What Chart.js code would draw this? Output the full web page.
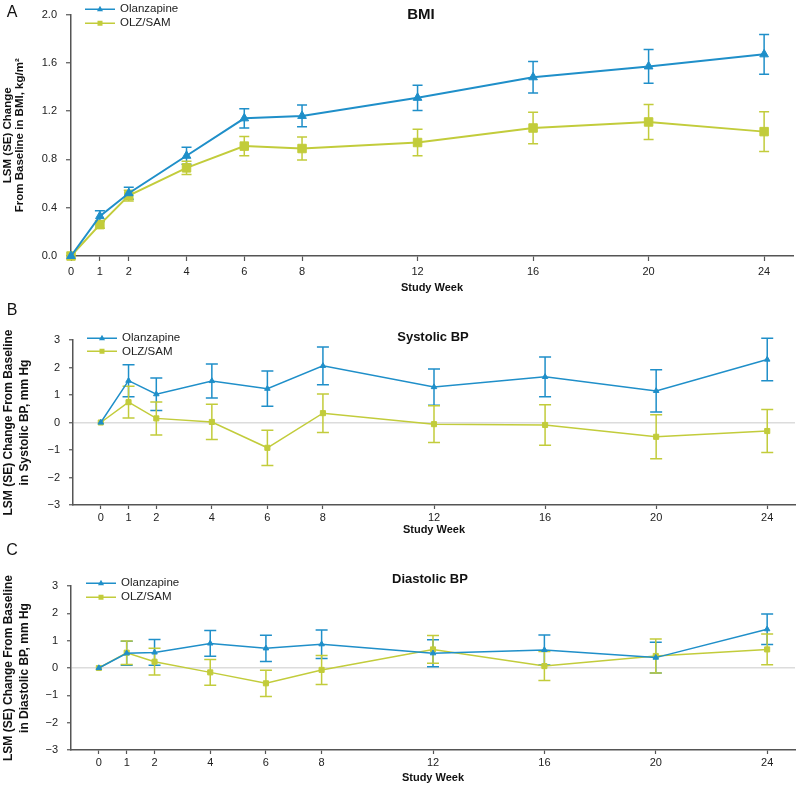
<!DOCTYPE html>
<html>
<head>
<meta charset="utf-8">
<script src="https://cdn.jsdelivr.net/npm/chart.js@4.4.0/dist/chart.umd.min.js"></script>
<style>
  body { margin: 0; background: #fff; font-family: "Liberation Sans", Arial, sans-serif; }
  #wrap { position: relative; width: 800px; height: 786px; overflow: hidden; }
  .panel { position: absolute; left: 0; }
  .txt { position: absolute; transform: translate(-50%, -50%); white-space: nowrap; line-height: 1; color: #111; }
  .letter { font-size: 16px; }
  .ttl { font-weight: bold; }
  .leg { position: absolute; display: flex; align-items: center; font-size: 11.5px; color: #222; line-height: 1; transform: translateY(-50%); }
  .leg svg { margin-right: 5px; }
</style>
</head>
<body>
<div id="wrap">
  <div class="panel" style="top:0"><canvas id="cA" width="800" height="300"></canvas></div>
  <div class="panel" style="top:300px"><canvas id="cB" width="800" height="240"></canvas></div>
  <div class="panel" style="top:540px"><canvas id="cC" width="800" height="246"></canvas></div>

  <div class="txt letter" style="left:12px;top:12px">A</div>
  <div class="txt letter" style="left:12px;top:310px">B</div>
  <div class="txt letter" style="left:12px;top:550px">C</div>

  <div class="txt ttl" style="left:421px;top:13px;font-size:15px">BMI</div>
  <div class="txt ttl" style="left:433px;top:336px;font-size:13px">Systolic BP</div>
  <div class="txt ttl" style="left:430px;top:578px;font-size:13px">Diastolic BP</div>

  <div id="legends"></div>
</div>

<script>
// study weeks (x axis)
const weeks = [0, 1, 2, 4, 6, 8, 12, 16, 20, 24];

// A: BMI change, kg/m2
const bmiOlz   = [0, 0.33, 0.52, 0.83, 1.14, 1.16, 1.31, 1.48, 1.57, 1.67];
const bmiOlzSe = [0, 0.045, 0.05, 0.07, 0.08, 0.09, 0.105, 0.13, 0.14, 0.165];
const bmiSam   = [0, 0.26, 0.50, 0.73, 0.91, 0.89, 0.94, 1.06, 1.11, 1.03];
const bmiSamSe = [0, 0.03, 0.045, 0.055, 0.08, 0.095, 0.11, 0.13, 0.145, 0.165];

// B: systolic BP change, mm Hg
const sbpOlz   = [0, 1.52, 1.03, 1.51, 1.23, 2.06, 1.29, 1.66, 1.15, 2.29];
const sbpOlzSe = [0, 0.58, 0.59, 0.62, 0.64, 0.69, 0.66, 0.72, 0.77, 0.77];
const sbpSam   = [0, 0.74, 0.15, 0.02, -0.92, 0.34, -0.06, -0.09, -0.52, -0.31];
const sbpSamSe = [0, 0.58, 0.60, 0.64, 0.64, 0.70, 0.67, 0.74, 0.80, 0.78];

// C: diastolic BP change, mm Hg
const dbpOlz   = [0, 0.54, 0.57, 0.90, 0.72, 0.87, 0.54, 0.66, 0.38, 1.42];
const dbpOlzSe = [0, 0.44, 0.47, 0.47, 0.48, 0.52, 0.49, 0.55, 0.56, 0.56];
const dbpSam   = [0, 0.56, 0.23, -0.16, -0.56, -0.07, 0.68, 0.07, 0.44, 0.68];
const dbpSamSe = [0, 0.43, 0.49, 0.47, 0.48, 0.53, 0.51, 0.53, 0.62, 0.56];

// tick labels
const bmiTicks = [0, 0.4, 0.8, 1.2, 1.6, 2.0];
const bpTicks  = [-3, -2, -1, 0, 1, 2, 3];

const seriesNames = ["Olanzapine", "OLZ/SAM"];

const BLUE = "#1f8fc9";
const GREEN = "#c2cc3b";
const AXIS = "#555";

// draws the SE whiskers for every dataset that has an "se" array
const errorBars = {
  id: "errorBars",
  beforeDatasetsDraw(chart) {
    const { ctx, scales: { x, y } } = chart;
    const cap = chart.options.plugins.errorBars.cap;
    chart.data.datasets.forEach((ds, i) => {
      if (!chart.isDatasetVisible(i)) return;
      ctx.save();
      ctx.strokeStyle = ds.borderColor;
      ctx.lineWidth = 1.5;
      ds.data.forEach((p, j) => {
        const se = ds.se[j];
        if (!se) return;
        const px = x.getPixelForValue(p.x);
        const hi = y.getPixelForValue(p.y + se);
        const lo = y.getPixelForValue(p.y - se);
        ctx.beginPath();
        ctx.moveTo(px, hi); ctx.lineTo(px, lo);
        ctx.moveTo(px - cap, hi); ctx.lineTo(px + cap, hi);
        ctx.moveTo(px - cap, lo); ctx.lineTo(px + cap, lo);
        ctx.stroke();
      });
      ctx.restore();
    });
  }
};

function series(label, vals, se, color, shape, r, lw) {
  return {
    label,
    data: weeks.map((w, i) => ({ x: w, y: vals[i] })),
    se,
    showLine: true,
    borderColor: color,
    backgroundColor: color,
    borderWidth: lw,
    pointStyle: shape,
    pointRadius: r,
    pointBorderWidth: 1,
    pointBackgroundColor: color,
    pointBorderColor: color,
    clip: false
  };
}

const minus = v => String(v).replace("-", "\u2212");

function panel(id, o) {
  return new Chart(document.getElementById(id), {
    type: "scatter",
    data: {
      datasets: [
        series(seriesNames[0], o.olz, o.olzSe, BLUE, "triangle", o.rTri, o.lw),
        series(seriesNames[1], o.sam, o.samSe, GREEN, "rect", o.rSq, o.lw)
      ]
    },
    options: {
      responsive: false,
      animation: false,
      devicePixelRatio: 1,
      layout: { padding: { top: o.top, right: o.right, left: 0, bottom: 0 } },
      plugins: {
        legend: { display: false },
        tooltip: { enabled: false },
        errorBars: { cap: o.cap }
      },
      scales: {
        x: {
          type: "linear",
          min: o.xMin,
          max: 25,
          afterBuildTicks: s => { s.ticks = weeks.map(v => ({ value: v })); },
          afterFit: s => { s.height = o.xh; },
          grid: { drawOnChartArea: false, tickLength: o.tl, tickColor: AXIS, tickWidth: 1.2 },
          border: { color: AXIS, width: 1.5 },
          ticks: { font: { size: 11, family: "Liberation Sans" }, color: "#222", padding: o.xtp, maxRotation: 0, autoSkip: false, callback: v => String(v) },
          title: { display: true, text: "Study Week", color: "#111", font: { size: 11, weight: "bold", family: "Liberation Sans" }, padding: { top: 0, bottom: o.xTitlePad } }
        },
        y: {
          min: o.yTicks[0],
          max: o.yTicks[o.yTicks.length - 1],
          afterBuildTicks: s => { s.ticks = o.yTicks.map(v => ({ value: v })); },
          afterFit: s => { s.width = o.yw; },
          grid: {
            color: c => (o.zeroLine && c.tick && c.tick.value === 0) ? "#dcdcdc" : "rgba(0,0,0,0)",
            lineWidth: 1.5,
            tickColor: AXIS,
            tickLength: o.tl,
            tickWidth: 1.2
          },
          border: { color: AXIS, width: 1.5 },
          ticks: { font: { size: 11, family: "Liberation Sans", lineHeight: 1 }, color: "#222", padding: o.ytp, callback: o.fmt },
          title: { display: true, text: o.yTitle, color: "#111", font: { size: o.yts, weight: "bold", family: "Liberation Sans", lineHeight: o.ylh }, padding: { top: o.yTitlePad, bottom: 0 } }
        }
      }
    },
    plugins: [errorBars]
  });
}

panel("cA", {
  olz: bmiOlz, olzSe: bmiOlzSe, sam: bmiSam, samSe: bmiSamSe,
  yTicks: bmiTicks, fmt: v => v.toFixed(1), zeroLine: false,
  yTitle: ["LSM (SE) Change", "From Baseline in BMI, kg/m\u00b2"], yts: 11.5, ylh: "12px", yTitlePad: 1.5,
  xMin: 0, top: 6, right: 0, xh: 44, yw: 71, tl: 5, xtp: 4, ytp: 9, xTitlePad: 5,
  rTri: 5, rSq: 6, lw: 2, cap: 5
});

panel("cB", {
  olz: sbpOlz, olzSe: sbpOlzSe, sam: sbpSam, samSe: sbpSamSe,
  yTicks: bpTicks, fmt: minus, zeroLine: true,
  yTitle: ["LSM (SE) Change From Baseline", "in Systolic BP, mm Hg"], yts: 12, ylh: "16px", yTitlePad: 0.5,
  xMin: -1, top: 40, right: 3, xh: 35, yw: 73, tl: 4, xtp: 2.5, ytp: 9, xTitlePad: 3.5,
  rTri: 3.2, rSq: 3.6, lw: 1.5, cap: 6
});

panel("cC", {
  olz: dbpOlz, olzSe: dbpOlzSe, sam: dbpSam, samSe: dbpSamSe,
  yTicks: bpTicks, fmt: minus, zeroLine: true,
  yTitle: ["LSM (SE) Change From Baseline", "in Diastolic BP, mm Hg"], yts: 12, ylh: "16px", yTitlePad: 0.5,
  xMin: -1, top: 46, right: 3, xh: 36, yw: 71, tl: 4, xtp: 2.5, ytp: 9, xTitlePad: 1.5,
  rTri: 3.2, rSq: 3.6, lw: 1.5, cap: 6
});

// legends: line sample with marker, then series name
const legendSpots = [
  { x: 85, rows: [9, 23] },
  { x: 87, rows: [338, 351.5] },
  { x: 86, rows: [583, 597] }
];
const sample = (color, tri) =>
  '<svg width="30" height="10"><line x1="0" y1="5" x2="30" y2="5" stroke="' + color + '" stroke-width="1.5"/>' +
  (tri ? '<polygon points="15,1.5 18,7 12,7" fill="' + color + '"/>'
       : '<rect x="12.5" y="2.5" width="5" height="5" fill="' + color + '"/>') + "</svg>";
let html = "";
legendSpots.forEach(s => {
  html += '<div class="leg" style="left:' + s.x + 'px;top:' + s.rows[0] + 'px">' + sample(BLUE, true) + seriesNames[0] + "</div>";
  html += '<div class="leg" style="left:' + s.x + 'px;top:' + s.rows[1] + 'px">' + sample(GREEN, false) + seriesNames[1] + "</div>";
});
document.getElementById("legends").innerHTML = html;
</script>
</body>
</html>
